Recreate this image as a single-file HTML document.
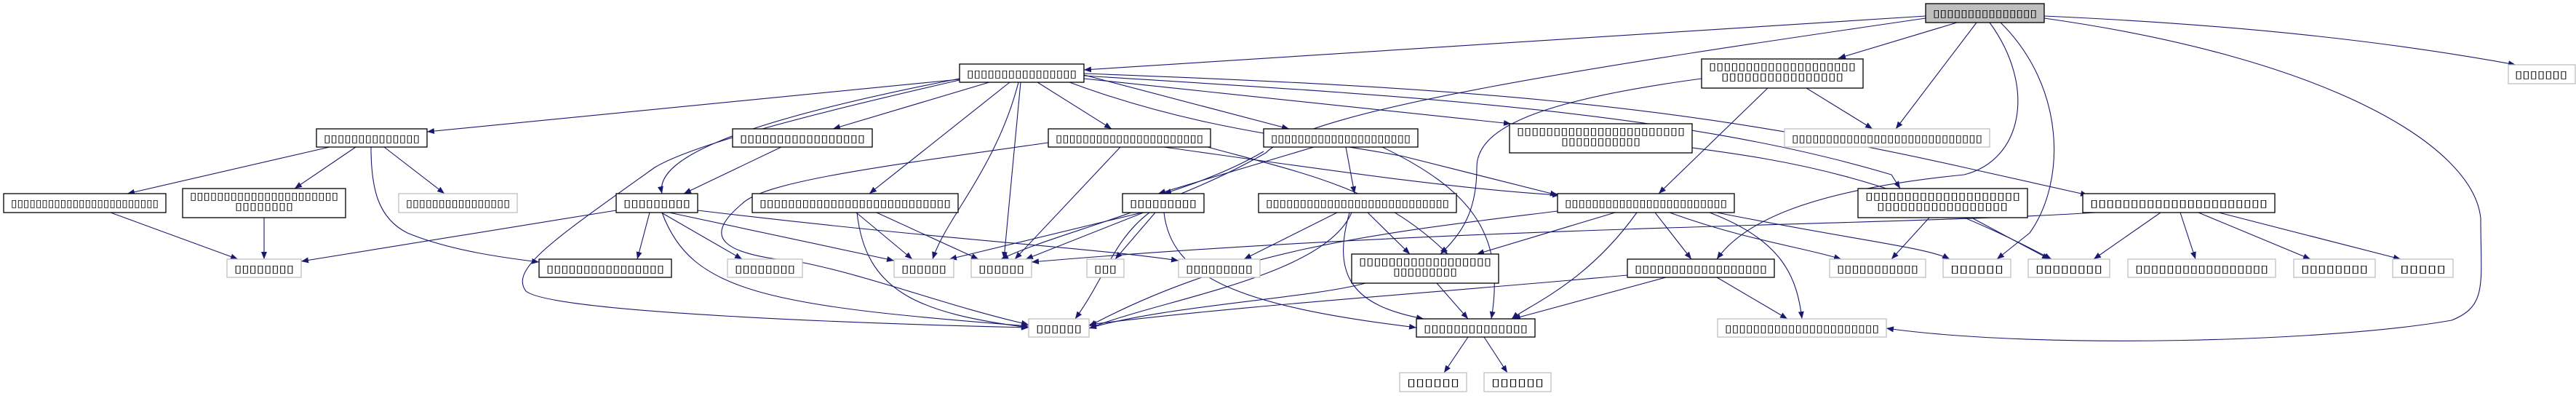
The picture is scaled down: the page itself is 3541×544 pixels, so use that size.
<!DOCTYPE html>
<html><head><meta charset="utf-8"><style>
html,body{margin:0;padding:0;background:#fff;}
svg{display:block;}
text{font-family:"DejaVu Sans",sans-serif;font-size:14px;fill:#000;}
.b{fill:#fff;stroke:#000;stroke-width:1.3;}
.g{fill:#fff;stroke:#bfbfbf;stroke-width:1.3;}
.e{fill:none;stroke:#191970;stroke-width:1.1;}
</style></head><body>
<svg width="3541" height="544" viewBox="0 0 3541 544" xmlns="http://www.w3.org/2000/svg">
<defs><marker id="a" viewBox="0 0 10 10" refX="10" refY="5" markerWidth="10" markerHeight="10" markerUnits="userSpaceOnUse" orient="auto"><path d="M0,1 L10,5 L0,9 z" fill="#191970"/></marker></defs>
<g marker-end="url(#a)">
<path class="e" d="M2647,22 L1490,96"/>
<path class="e" d="M2647,25 C2200,90 1800,150 1740,210 C1600,290 1450,320 1376,356"/>
<path class="e" d="M2690,31 L2527,80"/>
<path class="e" d="M2717,31 L2606,177"/>
<path class="e" d="M2810,22 C3100,35 3300,60 3458,89"/>
<path class="e" d="M2735,31 C2800,120 2780,220 2700,240 C2500,260 2400,300 2360,356"/>
<path class="e" d="M2750,31 C2840,120 2840,250 2790,320 L2745,356"/>
<path class="e" d="M2810,25 C3200,80 3400,200 3410,300 C3410,390 3420,420 3370,440 C3200,470 2800,480 2593,451"/>
<path class="e" d="M1319,109 L587,181"/>
<path class="e" d="M1319,108 C1000,170 900,220 910,266"/>
<path class="e" d="M1319,110 C1100,160 950,200 900,230 C760,330 700,370 723,400 C760,430 1200,445 1414,450"/>
<path class="e" d="M1360,113 L1145,177"/>
<path class="e" d="M1388,113 L1195,266"/>
<path class="e" d="M1400,113 C1370,230 1300,300 1282,356"/>
<path class="e" d="M1403,113 L1380,356"/>
<path class="e" d="M1426,113 L1528,177"/>
<path class="e" d="M1470,113 C1650,180 1800,190 1930,215 L2141,268"/>
<path class="e" d="M1490,103 L1772,177"/>
<path class="e" d="M1490,108 L2077,170"/>
<path class="e" d="M1490,104 C1900,130 2300,150 2600,240 L2612,259"/>
<path class="e" d="M1490,101 C2000,120 2300,140 2700,230 L2870,268"/>
<path class="e" d="M453,202 L175,266"/>
<path class="e" d="M489,202 L405,259"/>
<path class="e" d="M528,202 L611,266"/>
<path class="e" d="M510,202 C510,260 520,300 560,320 C620,345 700,355 741,360"/>
<path class="e" d="M152,292 L327,356"/>
<path class="e" d="M363,299 L363,356"/>
<path class="e" d="M847,289 L414,359"/>
<path class="e" d="M1074,202 L940,266"/>
<path class="e" d="M893,292 L876,356"/>
<path class="e" d="M909,292 L1020,356"/>
<path class="e" d="M920,292 L1229,358"/>
<path class="e" d="M959,289 C1300,330 1500,340 1620,358"/>
<path class="e" d="M910,292 C950,400 1050,420 1414,448"/>
<path class="e" d="M1441,196 C1200,230 1050,250 1020,280 C960,330 1000,350 1100,360 C1200,380 1300,420 1414,446"/>
<path class="e" d="M1540,202 L1395,356"/>
<path class="e" d="M1600,202 C1800,230 2000,260 2144,268"/>
<path class="e" d="M1660,202 C1800,240 1900,260 1990,349"/>
<path class="e" d="M1177,292 L1254,356"/>
<path class="e" d="M1205,292 L1345,356"/>
<path class="e" d="M1178,292 C1190,400 1260,430 1414,450"/>
<path class="e" d="M1570,292 L1305,356"/>
<path class="e" d="M1572,292 L1410,356"/>
<path class="e" d="M1588,292 L1533,356"/>
<path class="e" d="M1580,292 C1530,330 1520,380 1478,438"/>
<path class="e" d="M1600,292 C1610,380 1700,420 1947,450"/>
<path class="e" d="M1806,202 L1592,266"/>
<path class="e" d="M1850,202 L1862,266"/>
<path class="e" d="M1900,202 C2020,260 2070,320 2050,438"/>
<path class="e" d="M1737,208 C1700,230 1650,250 1600,266"/>
<path class="e" d="M1838,292 L1710,356"/>
<path class="e" d="M1880,292 L1938,349"/>
<path class="e" d="M1858,292 C1820,380 1600,410 1497,451"/>
<path class="e" d="M1855,292 C1830,380 1860,420 1957,438"/>
<path class="e" d="M2339,108 C2100,140 2030,180 2030,230 C2030,290 2010,320 1980,349"/>
<path class="e" d="M2430,121 L2280,266"/>
<path class="e" d="M2483,121 L2574,177"/>
<path class="e" d="M2220,292 L2030,349"/>
<path class="e" d="M2275,292 L2325,356"/>
<path class="e" d="M2250,292 C2180,390 2100,420 2078,438"/>
<path class="e" d="M2295,292 C2400,330 2480,340 2531,356"/>
<path class="e" d="M2350,292 C2450,330 2470,380 2477,438"/>
<path class="e" d="M2360,292 C2550,330 2650,340 2680,356"/>
<path class="e" d="M2141,290 C1900,320 1700,340 1497,448"/>
<path class="e" d="M2326,203 C2450,220 2600,240 2820,356"/>
<path class="e" d="M2652,299 L2600,356"/>
<path class="e" d="M2710,299 L2817,356"/>
<path class="e" d="M2880,292 C2600,310 2000,310 1418,360"/>
<path class="e" d="M2970,292 L2878,356"/>
<path class="e" d="M2997,292 L3018,356"/>
<path class="e" d="M3022,292 L3176,356"/>
<path class="e" d="M3050,292 L3300,356"/>
<path class="e" d="M1877,389 C1800,410 1600,420 1497,451"/>
<path class="e" d="M1975,389 L2018,438"/>
<path class="e" d="M2290,381 L2080,438"/>
<path class="e" d="M2360,381 L2457,438"/>
<path class="e" d="M2237,378 C2000,400 1700,420 1497,446"/>
<path class="e" d="M2018,463 L1985,512"/>
<path class="e" d="M2040,463 L2072,512"/>
</g>
<!-- nodes -->
<rect x="2647" y="5" width="163" height="26" fill="#bfbfbf" stroke="#000" stroke-width="1.3"/><text x="2657" y="23" textLength="143" lengthAdjust="spacingAndGlyphs">▯▯▯▯▯▯▯▯▯▯▯▯▯▯▯</text>
<rect class="g" x="3448" y="89" width="92" height="26"/><text x="3457" y="107" textLength="72" lengthAdjust="spacingAndGlyphs">▯▯▯▯▯▯▯</text>
<rect class="b" x="1319" y="88" width="171" height="25"/><text x="1329" y="106" textLength="151" lengthAdjust="spacingAndGlyphs">▯▯▯▯▯▯▯▯▯▯▯▯▯▯▯▯</text>
<rect class="b" x="2339" y="81" width="222" height="40"/><text x="2349" y="96" textLength="202" lengthAdjust="spacingAndGlyphs">▯▯▯▯▯▯▯▯▯▯▯▯▯▯▯▯▯▯▯▯</text><text x="2366" y="110" textLength="168" lengthAdjust="spacingAndGlyphs">▯▯▯▯▯▯▯▯▯▯▯▯▯▯▯▯</text>
<rect class="b" x="435" y="177" width="152" height="25"/><text x="445" y="195" textLength="132" lengthAdjust="spacingAndGlyphs">▯▯▯▯▯▯▯▯▯▯▯▯▯▯</text>
<rect class="b" x="1007" y="177" width="192" height="25"/><text x="1017" y="195" textLength="172" lengthAdjust="spacingAndGlyphs">▯▯▯▯▯▯▯▯▯▯▯▯▯▯▯▯▯</text>
<rect class="b" x="1441" y="177" width="223" height="25"/><text x="1451" y="195" textLength="203" lengthAdjust="spacingAndGlyphs">▯▯▯▯▯▯▯▯▯▯▯▯▯▯▯▯▯▯▯▯▯▯</text>
<rect class="b" x="1737" y="177" width="212" height="25"/><text x="1747" y="195" textLength="192" lengthAdjust="spacingAndGlyphs">▯▯▯▯▯▯▯▯▯▯▯▯▯▯▯▯▯▯▯▯▯</text>
<rect class="b" x="2075" y="170" width="251" height="40"/><text x="2085" y="185" textLength="231" lengthAdjust="spacingAndGlyphs">▯▯▯▯▯▯▯▯▯▯▯▯▯▯▯▯▯▯▯▯▯▯▯</text><text x="2146" y="199" textLength="109" lengthAdjust="spacingAndGlyphs">▯▯▯▯▯▯▯▯▯▯▯</text>
<rect class="g" x="2453" y="177" width="282" height="25"/><text x="2463" y="195" textLength="262" lengthAdjust="spacingAndGlyphs">▯▯▯▯▯▯▯▯▯▯▯▯▯▯▯▯▯▯▯▯▯▯▯▯▯▯▯▯</text>
<rect class="b" x="5" y="266" width="223" height="26"/><text x="15" y="284" textLength="203" lengthAdjust="spacingAndGlyphs">▯▯▯▯▯▯▯▯▯▯▯▯▯▯▯▯▯▯▯▯▯▯▯▯</text>
<rect class="b" x="251" y="259" width="224" height="40"/><text x="261" y="274" textLength="204" lengthAdjust="spacingAndGlyphs">▯▯▯▯▯▯▯▯▯▯▯▯▯▯▯▯▯▯▯▯▯▯</text><text x="323" y="288" textLength="80" lengthAdjust="spacingAndGlyphs">▯▯▯▯▯▯▯▯</text>
<rect class="g" x="548" y="266" width="163" height="26"/><text x="558" y="284" textLength="143" lengthAdjust="spacingAndGlyphs">▯▯▯▯▯▯▯▯▯▯▯▯▯▯▯▯</text>
<rect class="b" x="847" y="266" width="112" height="26"/><text x="857" y="284" textLength="92" lengthAdjust="spacingAndGlyphs">▯▯▯▯▯▯▯▯▯</text>
<rect class="b" x="1034" y="266" width="283" height="26"/><text x="1044" y="284" textLength="263" lengthAdjust="spacingAndGlyphs">▯▯▯▯▯▯▯▯▯▯▯▯▯▯▯▯▯▯▯▯▯▯▯▯▯▯▯</text>
<rect class="b" x="1543" y="266" width="112" height="26"/><text x="1553" y="284" textLength="92" lengthAdjust="spacingAndGlyphs">▯▯▯▯▯▯▯▯▯</text>
<rect class="b" x="1730" y="266" width="272" height="26"/><text x="1740" y="284" textLength="252" lengthAdjust="spacingAndGlyphs">▯▯▯▯▯▯▯▯▯▯▯▯▯▯▯▯▯▯▯▯▯▯▯▯▯▯▯</text>
<rect class="b" x="2141" y="266" width="243" height="26"/><text x="2151" y="284" textLength="223" lengthAdjust="spacingAndGlyphs">▯▯▯▯▯▯▯▯▯▯▯▯▯▯▯▯▯▯▯▯▯▯▯▯</text>
<rect class="b" x="2554" y="259" width="233" height="40"/><text x="2564" y="274" textLength="213" lengthAdjust="spacingAndGlyphs">▯▯▯▯▯▯▯▯▯▯▯▯▯▯▯▯▯▯▯▯</text><text x="2580" y="288" textLength="180" lengthAdjust="spacingAndGlyphs">▯▯▯▯▯▯▯▯▯▯▯▯▯▯▯▯▯</text>
<rect class="b" x="2863" y="266" width="264" height="26"/><text x="2873" y="284" textLength="244" lengthAdjust="spacingAndGlyphs">▯▯▯▯▯▯▯▯▯▯▯▯▯▯▯▯▯▯▯▯▯▯</text>
<rect class="g" x="312" y="356" width="102" height="25"/><text x="322" y="374" textLength="82" lengthAdjust="spacingAndGlyphs">▯▯▯▯▯▯▯▯</text>
<rect class="b" x="741" y="356" width="182" height="25"/><text x="751" y="374" textLength="162" lengthAdjust="spacingAndGlyphs">▯▯▯▯▯▯▯▯▯▯▯▯▯▯▯▯</text>
<rect class="g" x="1000" y="356" width="103" height="25"/><text x="1010" y="374" textLength="83" lengthAdjust="spacingAndGlyphs">▯▯▯▯▯▯▯▯</text>
<rect class="g" x="1229" y="356" width="82" height="25"/><text x="1239" y="374" textLength="62" lengthAdjust="spacingAndGlyphs">▯▯▯▯▯▯</text>
<rect class="g" x="1335" y="356" width="83" height="25"/><text x="1345" y="374" textLength="63" lengthAdjust="spacingAndGlyphs">▯▯▯▯▯▯</text>
<rect class="g" x="1494" y="356" width="51" height="25"/><text x="1504" y="374" textLength="31" lengthAdjust="spacingAndGlyphs">▯▯▯</text>
<rect class="g" x="1620" y="356" width="112" height="25"/><text x="1630" y="374" textLength="92" lengthAdjust="spacingAndGlyphs">▯▯▯▯▯▯▯▯▯</text>
<rect class="b" x="1858" y="349" width="202" height="40"/><text x="1868" y="364" textLength="182" lengthAdjust="spacingAndGlyphs">▯▯▯▯▯▯▯▯▯▯▯▯▯▯▯▯▯▯</text><text x="1915" y="378" textLength="88" lengthAdjust="spacingAndGlyphs">▯▯▯▯▯▯▯▯▯</text>
<rect class="b" x="2237" y="356" width="202" height="25"/><text x="2247" y="374" textLength="182" lengthAdjust="spacingAndGlyphs">▯▯▯▯▯▯▯▯▯▯▯▯▯▯▯▯▯▯</text>
<rect class="g" x="2515" y="356" width="132" height="25"/><text x="2525" y="374" textLength="112" lengthAdjust="spacingAndGlyphs">▯▯▯▯▯▯▯▯▯▯▯</text>
<rect class="g" x="2671" y="356" width="93" height="25"/><text x="2681" y="374" textLength="73" lengthAdjust="spacingAndGlyphs">▯▯▯▯▯▯</text>
<rect class="g" x="2788" y="356" width="112" height="25"/><text x="2798" y="374" textLength="92" lengthAdjust="spacingAndGlyphs">▯▯▯▯▯▯▯▯</text>
<rect class="g" x="2925" y="356" width="203" height="25"/><text x="2935" y="374" textLength="183" lengthAdjust="spacingAndGlyphs">▯▯▯▯▯▯▯▯▯▯▯▯▯▯▯▯▯</text>
<rect class="g" x="3153" y="356" width="112" height="25"/><text x="3163" y="374" textLength="92" lengthAdjust="spacingAndGlyphs">▯▯▯▯▯▯▯▯</text>
<rect class="g" x="3289" y="356" width="83" height="25"/><text x="3299" y="374" textLength="63" lengthAdjust="spacingAndGlyphs">▯▯▯▯▯</text>
<rect class="g" x="1414" y="438" width="83" height="25"/><text x="1424" y="456" textLength="63" lengthAdjust="spacingAndGlyphs">▯▯▯▯▯▯</text>
<rect class="b" x="1947" y="438" width="163" height="25"/><text x="1957" y="456" textLength="143" lengthAdjust="spacingAndGlyphs">▯▯▯▯▯▯▯▯▯▯▯▯▯▯</text>
<rect class="g" x="2361" y="438" width="232" height="25"/><text x="2371" y="456" textLength="212" lengthAdjust="spacingAndGlyphs">▯▯▯▯▯▯▯▯▯▯▯▯▯▯▯▯▯▯▯▯▯▯</text>
<rect class="g" x="1924" y="512" width="92" height="26"/><text x="1934" y="530" textLength="72" lengthAdjust="spacingAndGlyphs">▯▯▯▯▯▯</text>
<rect class="g" x="2040" y="512" width="92" height="26"/><text x="2050" y="530" textLength="72" lengthAdjust="spacingAndGlyphs">▯▯▯▯▯▯</text>
</svg>
</body></html>
